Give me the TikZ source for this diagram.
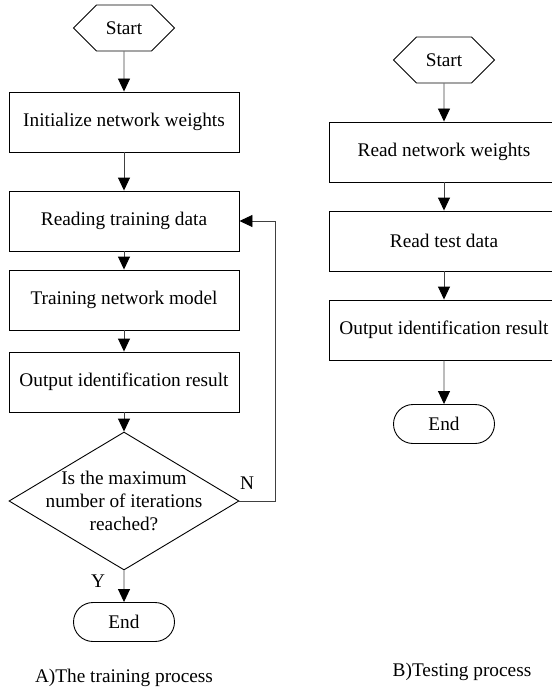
\documentclass[tikz,border=0pt]{standalone}
\usepackage{fontspec}
\setmainfont{Liberation Serif}
\usetikzlibrary{arrows.meta,shapes.geometric,shapes.symbols,shapes.misc}
\begin{document}
\begin{tikzpicture}[x=1bp,y=-1bp,
  every node/.style={font=\fontsize{19.3bp}{23.3bp}\selectfont},
  box/.style={draw, line width=0.9bp, minimum width=230bp, minimum height=60bp, inner sep=0pt},
  hexa/.style={draw, line width=0.9bp, signal, signal to=east and west, signal pointer angle=90, minimum width=101bp, minimum height=46bp, inner sep=0pt},
  term/.style={draw, line width=0.9bp, rounded rectangle, minimum width=101bp, minimum height=39bp, inner sep=0pt},
  dec/.style={draw, line width=0.9bp, diamond, minimum width=230bp, minimum height=138bp, inner sep=0pt},
  flow/.style={draw=black!75, line width=0.9bp, -{Triangle[length=13bp,width=12bp,black]}},
  lbl/.style={inner sep=0pt}
]
\useasboundingbox (0,0) rectangle (552,692);
\clip (0,0) rectangle (552,692);
% Left: training
\node[hexa] (s1) at (124,28) {Start};
\node[box] (init) at (124,122) {Initialize network weights};
\node[box] (read) at (124,221) {Reading training data};
\node[box] (train) at (124,300) {Training network model};
\node[box] (out1) at (124,382) {Output identification result};
\node[dec, label={[align=center,inner sep=0pt]center:Is the maximum\\number of iterations\\reached?}] (dec) at (124,501) {};
\node[term] (e1) at (124,622) {End};
\node[lbl] (nlab) at (247,483) {N};
\node[lbl] (ylab) at (98,581) {Y};
\node (capA) at (124,678) {A)The training process};
\draw[flow] (s1) -- (init);
\draw[flow] (init) -- (read);
\draw[flow] (read) -- (train);
\draw[flow] (train) -- (out1);
\draw[flow] (out1) -- (dec);
\draw[flow] (dec) -- (e1);
\draw[flow] (dec.east) -- ++(36,0) |- (read.east);
% Right: testing
\node[hexa] (s2) at (444,60) {Start};
\node[box] (rw) at (444,152) {Read network weights};
\node[box] (rt) at (444,241) {Read test data};
\node[box] (out2) at (444,330) {Output identification result};
\node[term] (e2) at (444,424) {End};
\node (capB) at (462,672) {B)Testing process};
\draw[flow] (s2) -- (rw);
\draw[flow] (rw) -- (rt);
\draw[flow] (rt) -- (out2);
\draw[flow] (out2) -- (e2);
\end{tikzpicture}
\end{document}
